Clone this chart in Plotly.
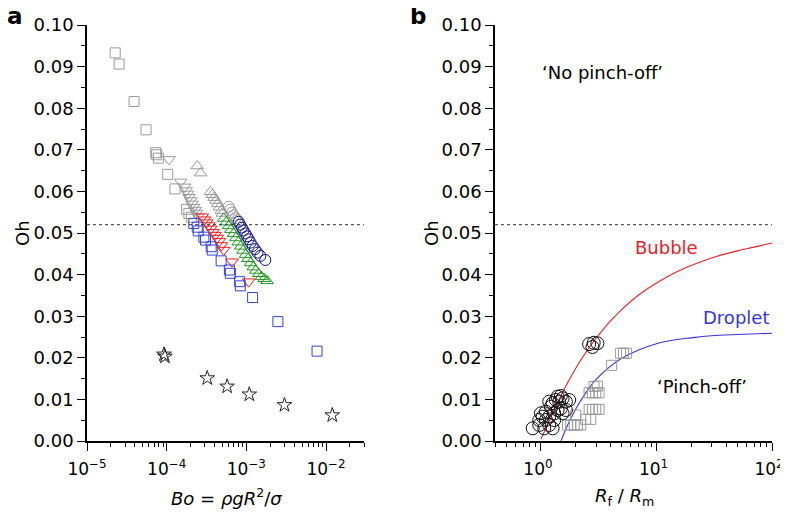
import plotly.graph_objects as go

# The page body has an 8 px margin, so the figure is drawn 8 px smaller and
# all layout pixel positions below are given in screen pixels minus OFF.
OFF = 8
W, H = 788 - OFF, 521 - OFF

# ---------------- Panel a data ----------------
gray_sq_bo = [2.26e-5, 2.53e-5, 3.90e-5, 5.51e-5, 7.29e-5, 7.50e-5, 7.87e-5, 1.03e-4, 1.27e-4, 1.78e-4, 1.90e-4, 2.04e-4]
gray_sq_oh = [0.0933, 0.0906, 0.0816, 0.0748, 0.0693, 0.0688, 0.0680, 0.0641, 0.0606, 0.0557, 0.0547, 0.0538]

gray_dn_bo = [1.07e-4, 1.50e-4, 1.68e-4, 1.75e-4, 1.83e-4, 1.91e-4, 2.00e-4, 2.08e-4, 2.17e-4, 2.27e-4, 2.37e-4, 2.48e-4]
gray_dn_oh = [0.0677, 0.0623, 0.0611, 0.0602, 0.0594, 0.0586, 0.0578, 0.0570, 0.0562, 0.0555, 0.0548, 0.0540]

red_dn_bo = [2.80e-4, 2.98e-4, 3.17e-4, 3.37e-4, 3.58e-4, 3.81e-4, 4.05e-4, 4.30e-4, 4.57e-4, 4.86e-4, 5.20e-4, 6.62e-4, 1.07e-3]
red_dn_oh = [0.0539, 0.0532, 0.0525, 0.0518, 0.0510, 0.0502, 0.0495, 0.0488, 0.0480, 0.0470, 0.0459, 0.0431, 0.0383]

gray_up_bo = [2.42e-4, 2.66e-4, 3.55e-4, 3.75e-4, 3.95e-4, 4.15e-4, 4.37e-4, 4.60e-4, 4.85e-4, 5.00e-4]
gray_up_oh = [0.0661, 0.0644, 0.0599, 0.0592, 0.0585, 0.0578, 0.0570, 0.0562, 0.0554, 0.0547]

green_up_bo = [5.2e-4, 5.6e-4, 6.0e-4, 6.4e-4, 6.9e-4, 7.4e-4, 7.9e-4, 8.5e-4, 9.1e-4, 9.8e-4,
               1.05e-3, 1.13e-3, 1.22e-3, 1.32e-3, 1.43e-3, 1.55e-3, 1.68e-3, 1.82e-3]
green_up_oh = [0.0535, 0.0526, 0.0517, 0.0508, 0.0498, 0.0488, 0.0478, 0.0468, 0.0458, 0.0448,
               0.0438, 0.0428, 0.0418, 0.0410, 0.0402, 0.0395, 0.0390, 0.0385]

gray_ci_bo = [6.0e-4, 6.3e-4, 6.6e-4, 6.95e-4, 7.3e-4, 7.65e-4]
gray_ci_oh = [0.0563, 0.0556, 0.0549, 0.0542, 0.0536, 0.0531]

navy_ci_bo = [8.0e-4, 8.4e-4, 8.8e-4, 9.2e-4, 9.7e-4, 1.02e-3, 1.07e-3, 1.13e-3, 1.20e-3, 1.28e-3, 1.38e-3, 1.50e-3, 1.73e-3]
navy_ci_oh = [0.0527, 0.0520, 0.0513, 0.0506, 0.0499, 0.0492, 0.0485, 0.0477, 0.0469, 0.0461, 0.0453, 0.0445, 0.0435]

blue_sq_bo = [2.19e-4, 2.42e-4, 2.49e-4, 2.93e-4, 3.07e-4, 3.62e-4, 3.73e-4, 4.83e-4, 6.13e-4, 6.31e-4,
              8.24e-4, 8.41e-4, 1.20e-3, 2.49e-3, 7.72e-3]
blue_sq_oh = [0.0523, 0.0514, 0.0505, 0.0490, 0.0483, 0.0467, 0.0459, 0.0433, 0.0411, 0.0403,
              0.0383, 0.0373, 0.0345, 0.0287, 0.0216]

star_bo = [9.25e-5, 9.52e-5, 3.23e-4, 5.74e-4, 1.09e-3, 3.01e-3, 1.20e-2]
star_oh = [0.0208, 0.0203, 0.0151, 0.0131, 0.0112, 0.00865, 0.0062]

# ---------------- Panel b data ----------------
bub_r = [0.848, 0.967, 1.034, 1.068, 1.179, 1.262, 1.0, 1.104, 1.22, 1.302, 1.393, 1.538, 1.179, 1.262,
         1.347, 1.438, 1.538, 1.643, 1.754, 1.487, 1.643, 1.393, 1.487, 1.179, 1.302, 0.967, 1.104,
         2.61, 2.79, 3.08, 2.86]
bub_oh = [0.00305, 0.00385, 0.00584, 0.00305, 0.00385, 0.00305, 0.00666, 0.00704, 0.00825, 0.00666,
          0.00745, 0.00666, 0.00945, 0.00906, 0.00986, 0.00945, 0.01026, 0.00945, 0.00986, 0.00786,
          0.00745, 0.01065, 0.01082, 0.00584, 0.00505, 0.00505, 0.00505,
          0.0233, 0.0226, 0.0235, 0.0236]

drop_r = [4.89, 5.19, 5.51, 4.09, 3.08, 2.88, 2.61, 2.79, 2.98, 3.18, 2.61, 2.79, 2.98, 3.18,
          2.44, 2.70, 2.00, 1.70, 1.81, 1.94, 2.07, 2.21]
drop_oh = [0.0211, 0.0211, 0.0211, 0.0182, 0.0132, 0.0131, 0.0116, 0.0116, 0.0116, 0.0116,
           0.0076, 0.0076, 0.0076, 0.0076, 0.0052, 0.0052, 0.00625, 0.00385, 0.00385, 0.00385,
           0.00385, 0.00385]

bubble_curve_r = [1.0, 1.2, 1.5, 2.0, 2.5, 3.0, 4.0, 5.0, 7.0, 10.0, 15.0, 20.0, 30.0, 50.0, 70.0, 100.0]
bubble_curve_oh = [0.0005, 0.0053, 0.0111, 0.0175, 0.0217, 0.0247, 0.0289, 0.0316, 0.0351, 0.0380,
                   0.0407, 0.0422, 0.0440, 0.0457, 0.0466, 0.0476]

droplet_curve_r = [1.49, 1.7, 2.0, 2.5, 3.0, 4.0, 5.0, 7.0, 10.0, 15.0, 20.0, 30.0, 50.0, 100.0]
droplet_curve_oh = [0.0, 0.0038, 0.0077, 0.0120, 0.0148, 0.0180, 0.0199, 0.0219, 0.0234, 0.0244,
                    0.0248, 0.0253, 0.0256, 0.0259]

OH_CRIT = 0.052

y_ticks = [0.00, 0.01, 0.02, 0.03, 0.04, 0.05, 0.06, 0.07, 0.08, 0.09, 0.10]
a_xticks = [1e-5, 1e-4, 1e-3, 1e-2]
a_xtext = ["10<sup>−5</sup>", "10<sup>−4</sup>", "10<sup>−3</sup>", "10<sup>−2</sup>"]
b_xticks = [1, 10, 100]
b_xtext = ["10<sup>0</sup>", "10<sup>1</sup>", "10<sup>2</sup>"]

FONT = "DejaVu Sans, Liberation Sans, Arial, sans-serif"
FS = 18
FSX = 17

fig = go.Figure()


def sc(x, y, symbol, color, size=10, xa="x", ya="y", width=1.0):
    fig.add_trace(go.Scatter(
        x=x, y=y, mode="markers", xaxis=xa, yaxis=ya, showlegend=False, cliponaxis=False,
        marker=dict(symbol=symbol, size=size, color=color, line=dict(color=color, width=width))))


GRAY = "#9a9a9a"
sc(gray_sq_bo, gray_sq_oh, "square-open", GRAY, 10)
sc(gray_dn_bo, gray_dn_oh, "triangle-down-open", GRAY, 11)
sc(gray_up_bo, gray_up_oh, "triangle-up-open", GRAY, 11)
sc(gray_ci_bo, gray_ci_oh, "circle-open", GRAY, 11)
sc(red_dn_bo, red_dn_oh, "triangle-down-open", "#ff1a1a", 11)
sc(green_up_bo, green_up_oh, "triangle-up-open", "#1f9a1f", 11)
sc(navy_ci_bo, navy_ci_oh, "circle-open", "#10108a", 11)
sc(blue_sq_bo, blue_sq_oh, "square-open", "#3344dd", 10)
sc(star_bo, star_oh, "star-open", "#222222", 11)

# panel b
fig.add_trace(go.Scatter(x=bubble_curve_r, y=bubble_curve_oh, mode="lines", xaxis="x2", yaxis="y2",
                         line=dict(color="#e82228", width=1.1, shape="spline", smoothing=1.0), showlegend=False))
fig.add_trace(go.Scatter(x=droplet_curve_r, y=droplet_curve_oh, mode="lines", xaxis="x2", yaxis="y2",
                         line=dict(color="#3636dc", width=1.1, shape="spline", smoothing=1.0), showlegend=False))
sc(drop_r, drop_oh, "square-open", GRAY, 10, "x2", "y2")
sc(bub_r, bub_oh, "circle-open", "#111111", 13, "x2", "y2")

for xr, yr in [("x", "y"), ("x2", "y2")]:
    fig.add_shape(type="line", xref=xr + " domain", yref=yr, x0=0, x1=1, y0=OH_CRIT, y1=OH_CRIT,
                  line=dict(color="#333333", width=1, dash="3px,3px"))


def px_x(sx):
    return (sx - OFF) / W


def px_y(sy):
    return 1 - (sy - OFF) / H


X1 = [px_x(87), px_x(364)]
X2 = [px_x(495), px_x(772)]
YD = [px_y(441), px_y(25)]

axis_common = dict(showgrid=False, zeroline=False, showline=True, linecolor="black", linewidth=1.6,
                   ticks="outside", ticklen=8, tickwidth=1.4, tickcolor="black", automargin=False)
yfont = dict(family=FONT, size=FS, color="black")
xfont = dict(family=FONT, size=FSX, color="black")
minor_log = dict(ticks="outside", ticklen=4, tickwidth=1.2, tickcolor="black", dtick="D1", showgrid=False)
minor_lin = dict(ticks="outside", ticklen=4, tickwidth=1.2, tickcolor="black", dtick=0.005, showgrid=False)

fig.update_layout(
    width=W, height=H, margin=dict(l=0, r=0, t=0, b=0, pad=0, autoexpand=False),
    paper_bgcolor="white", plot_bgcolor="white",
    xaxis=dict(type="log", domain=X1, range=[-5, -1.523], anchor="y", tickfont=xfont, ticklabelstandoff=4,
               tickvals=a_xticks, ticktext=a_xtext, minor=minor_log, **axis_common),
    yaxis=dict(domain=YD, range=[0, 0.10], anchor="x", tickvals=y_ticks, tickformat=".2f", tickfont=yfont,
               minor=minor_lin, **axis_common),
    xaxis2=dict(type="log", domain=X2, range=[-0.398, 2], anchor="y2", tickfont=xfont, ticklabelstandoff=4,
                ticklabelshift=-3,
                tickvals=b_xticks, ticktext=b_xtext, minor=minor_log, **axis_common),
    yaxis2=dict(domain=YD, range=[0, 0.10], anchor="x2", tickvals=y_ticks, tickformat=".2f", tickfont=yfont,
                minor=minor_lin, **axis_common),
    font=dict(family=FONT, color="black"),
    showlegend=False,
)

ann = [
    dict(text="<b>a</b>", x=px_x(15), y=px_y(16), font=dict(size=23)),
    dict(text="<b>b</b>", x=px_x(418), y=px_y(16), font=dict(size=23)),
    dict(text="Oh", x=px_x(22), y=px_y(233), font=dict(size=FS), textangle=-90),
    dict(text="Oh", x=px_x(431), y=px_y(233), font=dict(size=FS), textangle=-90),
    dict(text="<i>Bo</i> = <i>ρgR</i><sup>2</sup>/<i>σ</i>", x=px_x(226), y=px_y(497), font=dict(size=FS)),
    dict(text="<i>R</i><sub>f</sub> / <i>R</i><sub>m</sub>", x=px_x(624), y=px_y(497), font=dict(size=FS)),
]
for a in ann:
    fig.add_annotation(xref="paper", yref="paper", showarrow=False, xanchor="center", yanchor="middle", **a)

fig.add_annotation(xref="x2", yref="y2", x=0.534, y=0.0885, text="‘No pinch-off’", showarrow=False,
                   font=dict(size=FS, color="black"))
fig.add_annotation(xref="x2", yref="y2", x=1.083, y=0.0464, text="Bubble", showarrow=False,
                   font=dict(size=FS, color="#e82228"))
fig.add_annotation(xref="x2", yref="y2", x=1.69, y=0.0298, text="Droplet", showarrow=False,
                   font=dict(size=FS, color="#3636dc"))
fig.add_annotation(xref="x2", yref="y2", x=1.397, y=0.013, text="‘Pinch-off’", showarrow=False,
                   font=dict(size=FS, color="black"))

fig.write_html("out.html")
